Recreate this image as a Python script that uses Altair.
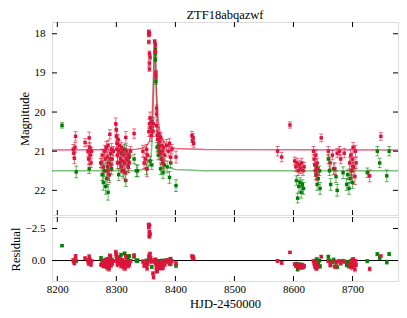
import altair as alt
import numpy as np
import pandas as pd

# ---------------- data ----------------
# ZTF r band (crimson)
r_t = [8227, 8228, 8229, 8230, 8231, 8247, 8252, 8253, 8254, 8255, 8256, 8257, 8258,
       8274, 8276, 8278, 8280, 8281, 8283, 8284, 8285, 8286, 8287, 8288, 8289, 8290,
       8291, 8292, 8293, 8295, 8299, 8300, 8300, 8301, 8301, 8302, 8302, 8303, 8304,
       8305, 8307, 8308, 8309, 8310, 8311, 8312, 8313, 8314, 8315, 8316, 8317, 8318,
       8320, 8321, 8322, 8324, 8330, 8345, 8347, 8349, 8351, 8352, 8353, 8355, 8356,
       8357, 8358, 8359, 8360, 8362, 8363,
       8355, 8355, 8356, 8355, 8356, 8357, 8356, 8356, 8365, 8366, 8366, 8367, 8367,
       8368, 8368,
       8368, 8369, 8370, 8371, 8372, 8373, 8374, 8375, 8376, 8377, 8378, 8379, 8380,
       8382, 8385, 8388, 8390, 8392, 8394, 8401, 8428, 8429, 8430, 8431,
       8573, 8580, 8594, 8602, 8604, 8606, 8608, 8610, 8612, 8614, 8616, 8618, 8634,
       8635, 8636, 8637, 8638, 8639, 8640, 8641, 8647, 8659, 8662, 8666, 8670, 8674,
       8678, 8680, 8686, 8695, 8697, 8698, 8700, 8701, 8702, 8704, 8705, 8706, 8729,
       8748]
r_mag = [20.95, 21.05, 21.18, 20.90, 20.62, 20.78, 21.00, 21.20, 20.66, 20.90, 21.10, 21.30, 21.00,
         21.30, 21.10, 21.40, 21.00, 21.20, 20.90, 21.50, 21.15, 20.85, 21.30, 21.60, 20.57, 21.05,
         21.35, 20.95, 21.20, 21.00, 20.30, 20.45, 20.62, 20.80, 20.95, 21.10, 21.30, 20.70, 21.00,
         20.85, 21.20, 21.40, 20.90, 21.00, 21.25, 21.50, 21.10, 21.30, 21.55, 20.65, 21.00, 21.20,
         21.40, 21.10, 21.30, 21.00, 20.55, 21.00, 21.30, 21.20, 20.95, 21.45, 21.10, 20.50, 20.30,
         20.15, 20.40, 20.60, 20.25, 20.50, 20.30,
         17.95, 18.03, 18.00, 18.21, 18.50, 18.60, 18.75, 18.90, 18.20, 18.28, 18.45, 19.00, 19.10,
         19.90, 20.05,
         20.35, 20.60, 20.70, 20.55, 20.90, 20.75, 21.05, 20.65, 21.20, 20.85, 21.00, 21.30, 20.90,
         21.10, 20.85, 21.00, 20.80, 21.15, 20.95, 21.15, 20.60, 20.75, 20.65, 20.80,
         21.00, 21.15, 20.33, 21.25, 21.40, 21.30, 21.50, 21.35, 21.45, 21.30, 21.50, 21.40, 21.00,
         21.20, 21.35, 21.50, 21.10, 21.60, 21.30, 21.45, 20.66, 21.00, 21.30, 21.10, 21.45, 21.05,
         21.00, 21.20, 21.05, 21.30, 21.10, 21.50, 21.20, 20.90, 21.40, 21.65, 21.00, 21.30, 21.63,
         20.62]
r_err = [0.12, 0.12, 0.14, 0.12, 0.12, 0.10, 0.15, 0.15, 0.15, 0.12, 0.15, 0.12, 0.10,
         0.12, 0.15, 0.15, 0.15, 0.12, 0.15, 0.20, 0.15, 0.12, 0.20, 0.20, 0.12, 0.15,
         0.15, 0.15, 0.15, 0.12, 0.15, 0.12, 0.12, 0.12, 0.15, 0.15, 0.15, 0.12, 0.12,
         0.12, 0.15, 0.15, 0.12, 0.12, 0.15, 0.20, 0.15, 0.15, 0.20, 0.15, 0.15, 0.12,
         0.15, 0.15, 0.15, 0.12, 0.12, 0.15, 0.15, 0.15, 0.12, 0.20, 0.15, 0.12, 0.12,
         0.15, 0.12, 0.15, 0.12, 0.12, 0.15,
         0.05, 0.05, 0.05, 0.05, 0.06, 0.06, 0.06, 0.06, 0.05, 0.05, 0.06, 0.06, 0.06,
         0.08, 0.08,
         0.15, 0.12, 0.15, 0.15, 0.12, 0.15, 0.15, 0.12, 0.15, 0.15, 0.12, 0.15, 0.15,
         0.15, 0.15, 0.15, 0.12, 0.15, 0.12, 0.15, 0.10, 0.10, 0.10, 0.10,
         0.12, 0.12, 0.08, 0.10, 0.12, 0.12, 0.12, 0.12, 0.12, 0.12, 0.12, 0.12, 0.12,
         0.12, 0.15, 0.15, 0.12, 0.15, 0.12, 0.15, 0.10, 0.12, 0.15, 0.12, 0.15, 0.12,
         0.12, 0.12, 0.12, 0.15, 0.15, 0.20, 0.15, 0.12, 0.20, 0.20, 0.15, 0.15, 0.15,
         0.10]

# ZTF g band (green)
g_t = [8208, 8232, 8254, 8274, 8276, 8278, 8280, 8282, 8284, 8285, 8286, 8288, 8290,
       8292, 8304, 8306, 8308, 8310, 8314, 8316, 8318, 8320, 8322, 8330, 8334, 8336,
       8351, 8357, 8360, 8366, 8366, 8366, 8367, 8369, 8371, 8372, 8373, 8375, 8377,
       8379, 8381, 8386, 8390, 8392, 8401,
       8605, 8607, 8609, 8611, 8613, 8615, 8617, 8638, 8639, 8640, 8642, 8644, 8645,
       8659, 8661, 8663, 8668, 8672, 8674, 8684, 8690, 8692, 8694, 8696, 8698, 8700,
       8701, 8725, 8742, 8746, 8758, 8762]
g_mag = [20.34, 21.53, 21.45, 21.30, 21.60, 21.80, 21.50, 21.90, 21.70, 21.40, 22.05, 21.60, 21.20,
         21.45, 21.60, 21.30, 21.05, 21.50, 20.95, 21.75, 21.20, 21.40, 21.15, 21.20, 21.50, 21.50,
         21.45, 21.25, 21.35, 18.40, 18.50, 18.65, 19.22, 20.90, 21.10, 20.85, 21.00, 21.45, 21.20,
         21.55, 21.35, 21.40, 21.67, 21.30, 21.88,
         21.75, 22.20, 21.90, 21.80, 22.05, 21.85, 21.95, 21.60, 21.40, 21.85, 21.70, 21.50, 21.95,
         21.20, 21.50, 21.85, 21.45, 21.65, 22.00, 21.55, 21.85, 21.60, 21.95, 21.70, 21.50, 21.80,
         21.40, 21.55, 21.00, 21.30, 21.63, 21.00]
g_err = [0.07, 0.15, 0.12, 0.12, 0.15, 0.20, 0.15, 0.20, 0.20, 0.15, 0.20, 0.15, 0.12,
         0.15, 0.15, 0.15, 0.12, 0.15, 0.12, 0.15, 0.15, 0.15, 0.12, 0.12, 0.15, 0.15,
         0.15, 0.12, 0.12, 0.05, 0.05, 0.06, 0.07, 0.12, 0.12, 0.12, 0.12, 0.15, 0.12,
         0.15, 0.15, 0.15, 0.15, 0.12, 0.15,
         0.12, 0.12, 0.15, 0.12, 0.15, 0.12, 0.15, 0.12, 0.12, 0.15, 0.15, 0.12, 0.15,
         0.12, 0.12, 0.15, 0.15, 0.15, 0.15, 0.15, 0.15, 0.12, 0.15, 0.12, 0.12, 0.15,
         0.12, 0.12, 0.12, 0.12, 0.15, 0.12]

# model light curve
model_t = [8191, 8330, 8345, 8352, 8356, 8359, 8361, 8363, 8364, 8365, 8366, 8367,
           8368, 8370, 8373, 8378, 8385, 8400, 8450, 8777]
r_model = [20.97, 20.96, 20.92, 20.85, 20.75, 20.50, 20.00, 19.00, 18.50, 18.20, 18.35, 18.90,
           19.50, 20.10, 20.45, 20.70, 20.85, 20.93, 20.96, 20.97]
g_model = [21.50, 21.50, 21.47, 21.42, 21.35, 21.10, 20.60, 19.60, 18.90, 18.45, 18.50, 19.00,
           19.70, 20.50, 20.95, 21.25, 21.40, 21.47, 21.50, 21.50]

x_ticks = [8200, 8300, 8400, 8500, 8600, 8700]
mag_ticks = [18, 19, 20, 21, 22]
res_ticks = [-2.5, 0.0]
title_text = ["ZTF18abqazwf"]
x_title = "HJD-2450000"

# ---------------- styling ----------------
RED = "#DC143C"
GREEN = "#008000"
FONT = "Liberation Serif"
W, H1, H2 = 346, 193, 64
TL = 5  # inward tick length

xs = alt.Scale(domain=[8191, 8777], nice=False, zero=False)
ys_mag = alt.Scale(domain=[17.7, 22.63], reverse=True, nice=False, zero=False)
ys_res = alt.Scale(domain=[-3.4, 1.6], reverse=True, nice=False, zero=False)

AX = dict(tickSize=0, ticks=False, domain=False, grid=False, labelFont=FONT, titleFont=FONT,
          labelFontSize=11, titleFontSize=12.5, titleFontWeight="normal",
          labelColor="black", titleColor="black")
x_axis_bottom = alt.Axis(values=x_ticks, format="d", title=x_title,
                         labelPadding=2, titlePadding=3, **AX)
y_axis_mag = alt.Axis(values=mag_ticks, format="d", title="Magnitude",
                      labelPadding=7, titlePadding=3, **AX)
y_axis_res = alt.Axis(values=res_ticks, format=".1f", title="Residual",
                      labelPadding=7, titlePadding=3, **AX)


def band_df(t, m, e, band, model):
    df = pd.DataFrame({"t": t, "mag": m, "err": e})
    df["band"] = band
    df["lo"] = df["mag"] - df["err"]
    df["hi"] = df["mag"] + df["err"]
    df["res"] = df["mag"] - np.interp(df["t"], model_t, model)
    df["rlo"] = df["res"] - df["err"]
    df["rhi"] = df["res"] + df["err"]
    return df


g_df = band_df(g_t, g_mag, g_err, "g", g_model)
r_df = band_df(r_t, r_mag, r_err, "r", r_model)
model_df = pd.DataFrame({"t": model_t, "r": r_model, "g": g_model})


def band_layers(df, color, xenc, ycol, locol, hicol, yscale, yaxis):
    base = alt.Chart(df)
    X = alt.X("t:Q", scale=xs, axis=xenc)
    bars = base.mark_rule(color=color, opacity=0.6, strokeWidth=1, clip=True).encode(
        x=X, y=alt.Y(f"{locol}:Q", scale=yscale, axis=yaxis), y2=f"{hicol}:Q")
    cap_lo = base.mark_tick(color=color, opacity=0.6, orient="horizontal", size=4,
                            thickness=1, clip=True).encode(
        x=X, y=alt.Y(f"{locol}:Q", scale=yscale, axis=yaxis))
    cap_hi = base.mark_tick(color=color, opacity=0.6, orient="horizontal", size=4,
                            thickness=1, clip=True).encode(
        x=X, y=alt.Y(f"{hicol}:Q", scale=yscale, axis=yaxis))
    pts = base.mark_square(color=color, opacity=1, size=12, clip=True).encode(
        x=X, y=alt.Y(f"{ycol}:Q", scale=yscale, axis=yaxis))
    return [bars, cap_lo, cap_hi, pts]


def frame_ticks(h, yvals, yscale, xenc, yaxis):
    xt = alt.Chart(pd.DataFrame({"t": x_ticks}))
    yt = alt.Chart(pd.DataFrame({"v": yvals}))
    X = alt.X("t:Q", scale=xs, axis=xenc)
    Y = alt.Y("v:Q", scale=yscale, axis=yaxis)
    return [
        xt.mark_rule(color="black", strokeWidth=1).encode(x=X, y=alt.value(h), y2=alt.value(h - TL)),
        xt.mark_rule(color="black", strokeWidth=1).encode(x=X, y=alt.value(0), y2=alt.value(TL)),
        yt.mark_rule(color="black", strokeWidth=1).encode(y=Y, x=alt.value(0), x2=alt.value(TL)),
        yt.mark_rule(color="black", strokeWidth=1).encode(y=Y, x=alt.value(W), x2=alt.value(W - TL)),
    ]


# ---------------- top panel ----------------
mbase = alt.Chart(model_df)
g_line = mbase.mark_line(color=GREEN, opacity=0.5, strokeWidth=1.5, clip=True).encode(
    x=alt.X("t:Q", scale=xs, axis=None), y=alt.Y("g:Q", scale=ys_mag, axis=y_axis_mag))
r_line = mbase.mark_line(color=RED, opacity=0.65, strokeWidth=1.5, clip=True).encode(
    x=alt.X("t:Q", scale=xs, axis=None), y=alt.Y("r:Q", scale=ys_mag, axis=y_axis_mag))

title_mark = alt.Chart(pd.DataFrame({"label": title_text})).mark_text(
    font=FONT, fontSize=12.5, baseline="middle", align="center", color="black"
).encode(text="label:N", x=alt.value(W / 2), y=alt.value(-7))

top_layers = [g_line, r_line]
top_layers += band_layers(g_df, GREEN, None, "mag", "lo", "hi", ys_mag, y_axis_mag)
top_layers += band_layers(r_df, RED, None, "mag", "lo", "hi", ys_mag, y_axis_mag)
top_layers += frame_ticks(H1, mag_ticks, ys_mag, None, y_axis_mag)
top_layers += [title_mark]
top = alt.layer(*top_layers).properties(width=W, height=H1)

# ---------------- residual panel ----------------
zero = alt.Chart(pd.DataFrame({"z": [0.0]})).mark_rule(color="black", strokeWidth=1).encode(
    y=alt.Y("z:Q", scale=ys_res, axis=y_axis_res))
bot_layers = [zero]
bot_layers += band_layers(g_df, GREEN, x_axis_bottom, "res", "rlo", "rhi", ys_res, y_axis_res)
bot_layers += band_layers(r_df, RED, x_axis_bottom, "res", "rlo", "rhi", ys_res, y_axis_res)
bot_layers += frame_ticks(H2, res_ticks, ys_res, x_axis_bottom, y_axis_res)
bottom = alt.layer(*bot_layers).properties(width=W, height=H2)

chart = alt.vconcat(top, bottom, spacing=0).properties(
    padding={"left": 0, "top": 0, "right": 0, "bottom": 0},
).configure_view(
    stroke="black", strokeWidth=1
).configure_axis(
    labelFont=FONT, titleFont=FONT, titleFontWeight="normal", labelColor="black",
    titleColor="black", grid=False, domain=False
).configure(background="white")

chart.save("out.html", embed_options={"renderer": "svg", "actions": False})
